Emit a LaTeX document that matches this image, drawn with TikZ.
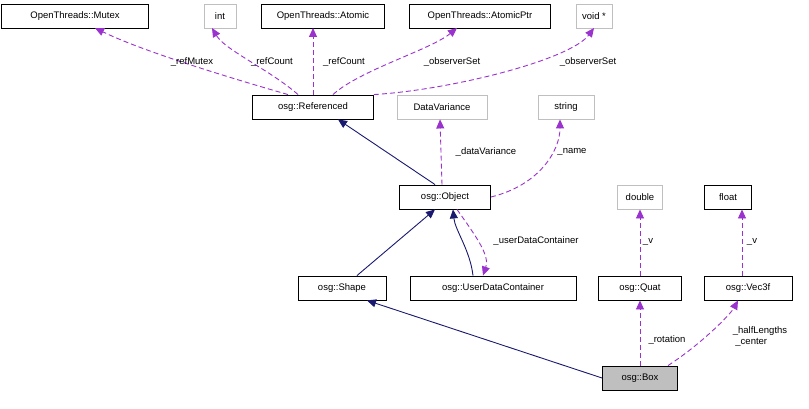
\documentclass[tikz,border=0pt]{standalone}
\usepackage{fontspec}
\setmainfont{Liberation Sans}
\usetikzlibrary{arrows.meta}
\definecolor{navy}{HTML}{191970}
\definecolor{purp}{HTML}{9A32CD}
\definecolor{gr}{HTML}{BFBFBF}
\begin{document}
\begin{tikzpicture}[x=1pt,y=-1pt,
  every node/.style={font=\fontsize{9.5}{11}\selectfont},
  cls/.style={draw=black,fill=white,line width=0.9pt,minimum height=24pt,inner xsep=5pt,inner ysep=0pt},
  ext/.style={cls,draw=gr},
  inh/.style={draw=navy,line width=0.9pt,-{Triangle[length=9pt,width=8pt,fill=navy]}},
  use/.style={draw=purp,line width=0.9pt,dash pattern=on 5pt off 3pt,-{Triangle[length=9pt,width=8pt,fill=purp]}},
  lbl/.style={inner sep=0pt,align=center}]
\useasboundingbox (0,0) rectangle (809,409);
\node[cls,minimum width=147pt] (mutex) at (75,16) {OpenThreads::Mutex};
\node[ext,minimum width=32pt] (int) at (220,16) {int};
\node[cls,minimum width=123pt] (atomic) at (323,16) {OpenThreads::Atomic};
\node[cls,minimum width=141pt] (aptr) at (480,16) {OpenThreads::AtomicPtr};
\node[ext,minimum width=36pt] (void) at (594,16) {void *};
\node[cls,minimum width=121pt] (ref) at (313,107) {osg::Referenced};
\node[ext,minimum width=90pt] (dv) at (442,107) {DataVariance};
\node[ext,minimum width=56pt] (str) at (566,107) {string};
\node[cls,minimum width=91pt] (obj) at (445,197) {osg::Object};
\node[ext,minimum width=45pt] (dbl) at (640,197) {double};
\node[cls,minimum width=47pt] (flt) at (728,197) {float};
\node[cls,minimum width=88pt] (shape) at (342,288) {osg::Shape};
\node[cls,minimum width=166pt] (udc) at (493,288) {osg::UserDataContainer};
\node[cls,minimum width=83pt] (quat) at (640,288) {osg::Quat};
\node[cls,minimum width=88pt] (vec) at (748,288) {osg::Vec3f};
\node[cls,fill=gr,minimum width=75pt] (box) at (640,378) {osg::Box};

\coordinate (m1) at (95,28);
\coordinate (i1) at (212,28);
\coordinate (a1) at (313,28);
\coordinate (p1) at (457,28);
\coordinate (v1) at (594,28);
\path (ref.north) ++(-25,0) coordinate (r1) ++(10,0) coordinate (r2) ++(15,0) coordinate (r3) ++(20,0) coordinate (r4);
\draw[use] (r1) .. controls (220,75) and (140,50) .. (m1);
\draw[use] (r2) .. controls (270,70) and (225,50) .. (i1);
\draw[use] (r3) -- (a1);
\draw[use] (r4) .. controls (360,70) and (430,50) .. (p1);
\draw[use] (ref.north east) .. controls (450,90) and (570,60) .. (v1);
\node[lbl] at (192,62) {\_refMutex};
\node[lbl] at (272,62) {\_refCount};
\node[lbl] at (344,62) {\_refCount};
\node[lbl] at (452,62) {\_observerSet};
\node[lbl] at (588,62) {\_observerSet};

\draw[inh] ([xshift=-10pt]obj.north) -- ([xshift=25pt]ref.south);
\draw[use] ([xshift=-3pt]obj.north) -- ([xshift=-2pt]dv.south);
\draw[use] (obj.east) .. controls (540,185) and (560,150) .. ([xshift=-6pt]str.south);
\node[lbl] at (486,152) {\_dataVariance};
\node[lbl] at (572,152) {\_name};

\draw[inh] ([xshift=15pt]shape.north) -- ([xshift=-10pt]obj.south);
\draw[inh] ([xshift=-20pt]udc.north) .. controls (470,250) and (455,230) .. ([xshift=8pt]obj.south);
\draw[use] ([xshift=12pt]obj.south) .. controls (475,235) and (490,255) .. ([xshift=-10pt]udc.north);
\node[lbl] at (536,241) {\_userDataContainer};

\draw[use] (quat.north) -- (dbl.south);
\draw[use] ([xshift=-6pt]vec.north) -- ([xshift=14pt]flt.south);
\node[lbl] at (648,242) {\_v};
\node[lbl] at (752,242) {\_v};

\draw[inh] (box.west) -- ([xshift=25pt]shape.south);
\draw[use] (box.north) -- (quat.south);
\draw[use] ([xshift=28pt]box.north) .. controls (700,345) and (730,315) .. ([xshift=-10pt]vec.south);
\node[lbl] at (667,340) {\_rotation};
\node[lbl,align=left] at (760,337) {\_halfLengths\\\ \_center};
\end{tikzpicture}
\end{document}
